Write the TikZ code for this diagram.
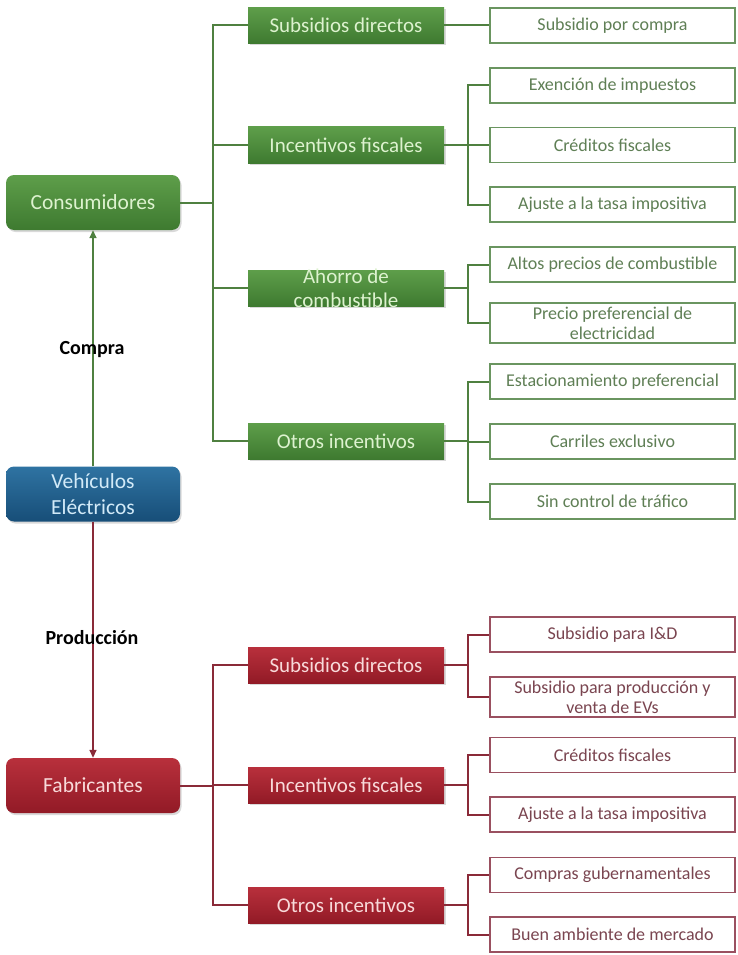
\documentclass[tikz,border=0pt]{standalone}
\usepackage{fontspec}
\setmainfont{Carlito}
\usetikzlibrary{shadows,arrows.meta}
\definecolor{gline}{HTML}{4F8040}
\definecolor{gtop}{HTML}{5E9E4A}
\definecolor{gbot}{HTML}{3E7A30}
\definecolor{gtext}{HTML}{DDF2CF}
\definecolor{btop}{HTML}{2F73A2}
\definecolor{bbot}{HTML}{174E78}
\definecolor{btext}{HTML}{D2EAF8}
\definecolor{rtop}{HTML}{B8303C}
\definecolor{rbot}{HTML}{921A26}
\definecolor{rtext}{HTML}{F8DADA}
\definecolor{rline}{HTML}{8A2A38}
\definecolor{gleaf}{HTML}{5F7F55}
\definecolor{rleaf}{HTML}{7A4550}
\definecolor{gborder}{HTML}{6A9560}
\definecolor{rborder}{HTML}{9A5060}
\tikzset{
  shad/.style={drop shadow={opacity=0.3, shadow xshift=1.5pt, shadow yshift=-2pt}},
  gshade/.style={top color=gtop, bottom color=gbot, text=gtext},
  bshade/.style={top color=btop, bottom color=bbot, text=btext},
  rshade/.style={top color=rtop, bottom color=rbot, text=rtext},
  mainbox/.style={shad, rounded corners=8pt, minimum width=174pt, minimum height=55pt,
    inner sep=0pt, align=center, font=\fontsize{21.5}{26}\selectfont},
  midbox/.style={shad, minimum width=196pt, minimum height=36pt, inner sep=0pt,
    align=center, font=\fontsize{21}{24}\selectfont},
  leafbox/.style={draw, line width=1.3pt, fill=white, minimum width=245pt, minimum height=35pt,
    inner sep=0pt, align=center, font=\fontsize{18}{20}\selectfont},
  gleafbox/.style={leafbox, draw=gborder, text=gleaf},
  rleafbox/.style={leafbox, draw=rborder, text=rleaf},
  gconn/.style={draw=gline, line width=2pt},
  rconn/.style={draw=rline, line width=2pt},
  lbl/.style={font=\bfseries\fontsize{20}{24}\selectfont, text=black, inner sep=1pt}
}
\begin{document}
\begin{tikzpicture}[x=1pt,y=-1pt]
\useasboundingbox (0,0) rectangle (737,955);
% main boxes
\node[mainbox, gshade] (cons) at (93,202.5) {Consumidores};
\node[mainbox, bshade] (veh) at (93,494) {Vehículos\\Eléctricos};
\node[mainbox, rshade] (fab) at (93,785.5) {Fabricantes};
% arrows
\draw[gline, line width=1.6pt, -{Triangle[length=8pt,width=7pt]}] (veh.north) -- (cons.south);
\draw[rline, line width=1.6pt, -{Triangle[length=8pt,width=7pt]}] (veh.south) -- (fab.north);
\node[lbl] (compra) at (92,350) {Compra};
\node[lbl] (prod) at (92,638) {Producción};
% green mid
\node[midbox, gshade] (gm1) at (346,25.5) {Subsidios directos};
\node[midbox, gshade] (gm2) at (346,145) {Incentivos fiscales};
\node[midbox, gshade, label={[text=gtext, align=center, font=\fontsize{21}{24}\selectfont, inner sep=0pt]center:Ahorro de\\combustible}] (gm3) at (346,288) {};
\node[midbox, gshade] (gm4) at (346,441) {Otros incentivos};
% green leaves
\node[gleafbox] (gl1) at (612.5,25.5) {Subsidio por compra};
\node[gleafbox] (gl2) at (612.5,85.5) {Exención de impuestos};
\node[gleafbox] (gl3) at (612.5,145) {Créditos fiscales};
\node[gleafbox] (gl4) at (612.5,204.5) {Ajuste a la tasa impositiva};
\node[gleafbox] (gl5) at (612.5,264.5) {Altos precios de combustible};
\node[gleafbox, minimum height=40pt] (gl6) at (612.5,323) {Precio preferencial de\\electricidad};
\node[gleafbox] (gl7) at (612.5,381.5) {Estacionamiento preferencial};
\node[gleafbox] (gl8) at (612.5,441.5) {Carriles exclusivo};
\node[gleafbox] (gl9) at (612.5,501.5) {Sin control de tráfico};
% red mid
\node[midbox, rshade] (rm1) at (346,665) {Subsidios directos};
\node[midbox, rshade] (rm2) at (346,785) {Incentivos fiscales};
\node[midbox, rshade] (rm3) at (346,905) {Otros incentivos};
% red leaves
\node[rleafbox] (rl1) at (612.5,634.5) {Subsidio para I\&D};
\node[rleafbox, minimum height=40pt] (rl2) at (612.5,697) {Subsidio para producción y\\venta de EVs};
\node[rleafbox] (rl3) at (612.5,755) {Créditos fiscales};
\node[rleafbox] (rl4) at (612.5,814.5) {Ajuste a la tasa impositiva};
\node[rleafbox] (rl5) at (612.5,875) {Compras gubernamentales};
\node[rleafbox] (rl6) at (612.5,934.5) {Buen ambiente de mercado};
% green connectors
\coordinate (gb) at (213,202.5);
\draw[gconn] (cons.east) -- (gb);
\foreach \m in {gm1,gm2,gm3,gm4} \draw[gconn] (gb) |- (\m.west);
\coordinate (gs1) at (468,25.5);
\coordinate (gs2) at (468,145);
\coordinate (gs3) at (468,288);
\coordinate (gs4) at (468,441);
\draw[gconn] (gm1.east) -- (gs1) |- (gl1.west);
\draw[gconn] (gm2.east) -- (gs2);
\foreach \l in {gl2,gl3,gl4} \draw[gconn] (gs2) |- (\l.west);
\draw[gconn] (gm3.east) -- (gs3);
\foreach \l in {gl5,gl6} \draw[gconn] (gs3) |- (\l.west);
\draw[gconn] (gm4.east) -- (gs4);
\foreach \l in {gl7,gl8,gl9} \draw[gconn] (gs4) |- (\l.west);
% red connectors
\coordinate (rb) at (213,785.5);
\draw[rconn] (fab.east) -- (rb);
\foreach \m in {rm1,rm2,rm3} \draw[rconn] (rb) |- (\m.west);
\coordinate (rs1) at (468,665);
\coordinate (rs2) at (468,785);
\coordinate (rs3) at (468,905);
\draw[rconn] (rm1.east) -- (rs1);
\foreach \l in {rl1,rl2} \draw[rconn] (rs1) |- (\l.west);
\draw[rconn] (rm2.east) -- (rs2);
\foreach \l in {rl3,rl4} \draw[rconn] (rs2) |- (\l.west);
\draw[rconn] (rm3.east) -- (rs3);
\foreach \l in {rl5,rl6} \draw[rconn] (rs3) |- (\l.west);
\end{tikzpicture}
\end{document}
